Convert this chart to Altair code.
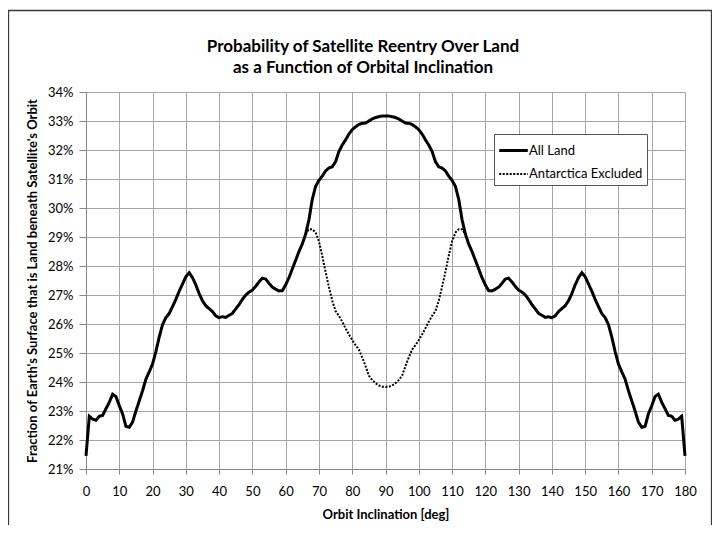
import altair as alt
import pandas as pd

# Orbit inclination [deg]
inclination = list(range(0, 181))

# Fraction of Earth's surface that is land beneath the orbit [%], all land
all_land = [
    21.45, 22.82, 22.72, 22.68, 22.82, 22.85, 23.08, 23.30, 23.58, 23.50,
    23.18, 22.90, 22.47, 22.44, 22.62, 23.00, 23.35, 23.70, 24.10, 24.35,
    24.62, 25.05, 25.55, 25.98, 26.22, 26.36, 26.60, 26.85, 27.13, 27.38,
    27.63, 27.77, 27.60, 27.35, 27.05, 26.80, 26.63, 26.53, 26.43, 26.28,
    26.22, 26.25, 26.23, 26.30, 26.37, 26.52, 26.67, 26.85, 27.00, 27.10,
    27.17, 27.30, 27.45, 27.58, 27.55, 27.40, 27.27, 27.20, 27.14, 27.15,
    27.35, 27.60, 27.90, 28.20, 28.50, 28.76, 29.10, 29.60, 30.30, 30.75,
    30.95, 31.10, 31.28, 31.38, 31.42, 31.60, 31.95, 32.17, 32.35, 32.55,
    32.70, 32.80, 32.88, 32.92, 32.93, 33.00, 33.07, 33.12, 33.15, 33.17,
    33.17,
    33.17, 33.15, 33.12, 33.07, 33.00, 32.93, 32.92, 32.88, 32.80,
    32.70, 32.55, 32.35, 32.17, 31.95, 31.60, 31.42, 31.38, 31.28, 31.10,
    30.95, 30.75, 30.30, 29.60, 29.10, 28.76, 28.50, 28.20, 27.90, 27.60,
    27.35, 27.15, 27.14, 27.20, 27.27, 27.40, 27.55, 27.58, 27.45, 27.30,
    27.17, 27.10, 27.00, 26.85, 26.67, 26.52, 26.37, 26.30, 26.23, 26.25,
    26.22, 26.28, 26.43, 26.53, 26.63, 26.80, 27.05, 27.35, 27.60, 27.77,
    27.63, 27.38, 27.13, 26.85, 26.60, 26.36, 26.22, 25.98, 25.55, 25.05,
    24.62, 24.35, 24.10, 23.70, 23.35, 23.00, 22.62, 22.44, 22.47, 22.90,
    23.18, 23.50, 23.58, 23.30, 23.08, 22.85, 22.82, 22.68, 22.72, 22.82,
    21.45,
]

# Antarctica excluded (differs from all land only between ~66 and ~114 deg)
excl_inclination = list(range(66, 115))
excl_land = [
    29.10, 29.27, 29.27, 29.15, 28.85, 28.35, 27.80, 27.28, 26.80, 26.45,
    26.28, 26.08, 25.85, 25.64, 25.45, 25.27, 25.12, 24.85, 24.55, 24.22,
    24.07, 23.96, 23.88, 23.84, 23.83, 23.84, 23.88, 23.96, 24.07, 24.22,
    24.55, 24.85, 25.12, 25.27, 25.45, 25.64, 25.85, 26.08, 26.28, 26.45,
    26.80, 27.28, 27.80, 28.35, 28.85, 29.15, 29.27, 29.27, 29.10,
]

series_names = ["All Land", "Antarctica Excluded"]
x_ticks = list(range(0, 181, 10))
y_ticks = list(range(21, 35))
title_lines = ["Probability of Satellite Reentry Over Land",
               "as a Function of Orbital Inclination"]

df = pd.DataFrame({
    "inc": inclination + excl_inclination,
    "frac": all_land + excl_land,
    "series": [series_names[0]] * len(inclination) + [series_names[1]] * len(excl_inclination),
})

FONT = "Lato"
one = pd.DataFrame({"k": [0]})

frame = alt.Chart(one).mark_rect(
    fillOpacity=0, stroke="#3a3a3a", strokeWidth=1.3
).encode(
    x=alt.value(-77.5), x2=alt.value(625.5), y=alt.value(-81.5), y2=alt.value(600)
)

title1 = alt.Chart(one).mark_text(
    text=title_lines[0], font=FONT, fontSize=17, fontWeight="bold", color="black",
    align="center", baseline="middle"
).encode(x=alt.value(277), y=alt.value(-45))

title2 = alt.Chart(one).mark_text(
    text=title_lines[1], font=FONT, fontSize=17, fontWeight="bold", color="black",
    align="center", baseline="middle"
).encode(x=alt.value(277), y=alt.value(-24))

lines = alt.Chart(df).mark_line(color="black", strokeCap="butt").encode(
    x=alt.X("inc:Q", scale=alt.Scale(domain=[0, 180], nice=False),
            axis=alt.Axis(values=x_ticks, title="Orbit Inclination [deg]",
                          tickSize=5, labelPadding=11, titlePadding=10,
                          labelFlush=False, labelOverlap=False)),
    y=alt.Y("frac:Q", scale=alt.Scale(domain=[21, 34], nice=False),
            axis=alt.Axis(values=y_ticks, labelExpr="datum.value + '%'",
                          title="Fraction of Earth's Surface that is Land beneath Satellite's Orbit",
                          tickSize=7, labelPadding=6, titlePadding=8,
                          labelOverlap=False)),
    strokeDash=alt.StrokeDash("series:N",
        scale=alt.Scale(domain=series_names, range=[[1, 0], [2, 1.5]]),
        legend=alt.Legend(title=None, orient="none", legendX=408, legendY=42,
                          symbolType="M-1.3,0H1.3", symbolSize=484, symbolStrokeWidth=2.5,
                          symbolStrokeColor="black", symbolFillColor="transparent",
                          symbolOffset=3,
                          labelFont=FONT, labelFontSize=13,
                          labelColor="black", padding=4, rowPadding=4, labelOffset=3,
                          strokeColor="#555555", fillColor="white")),
    strokeWidth=alt.StrokeWidth("series:N",
        scale=alt.Scale(domain=series_names, range=[3.0, 2.0]), legend=None),
)

chart = alt.layer(frame, lines, title1, title2).properties(
    width=599, height=377,
    autosize=alt.AutoSizeParams(type="none"),
    padding={"left": 78, "top": 84, "right": 27, "bottom": 56},
).configure_view(stroke=None).configure_axis(
    gridColor="#a6a6a6", gridWidth=1, domainColor="#868686", tickColor="#868686",
    labelFont=FONT, labelFontSize=13, labelColor="black",
    titleFont=FONT, titleFontSize=13, titleFontWeight="bold", titleColor="black",
)

chart.save("out.html", embed_options={"renderer": "svg", "actions": False})
